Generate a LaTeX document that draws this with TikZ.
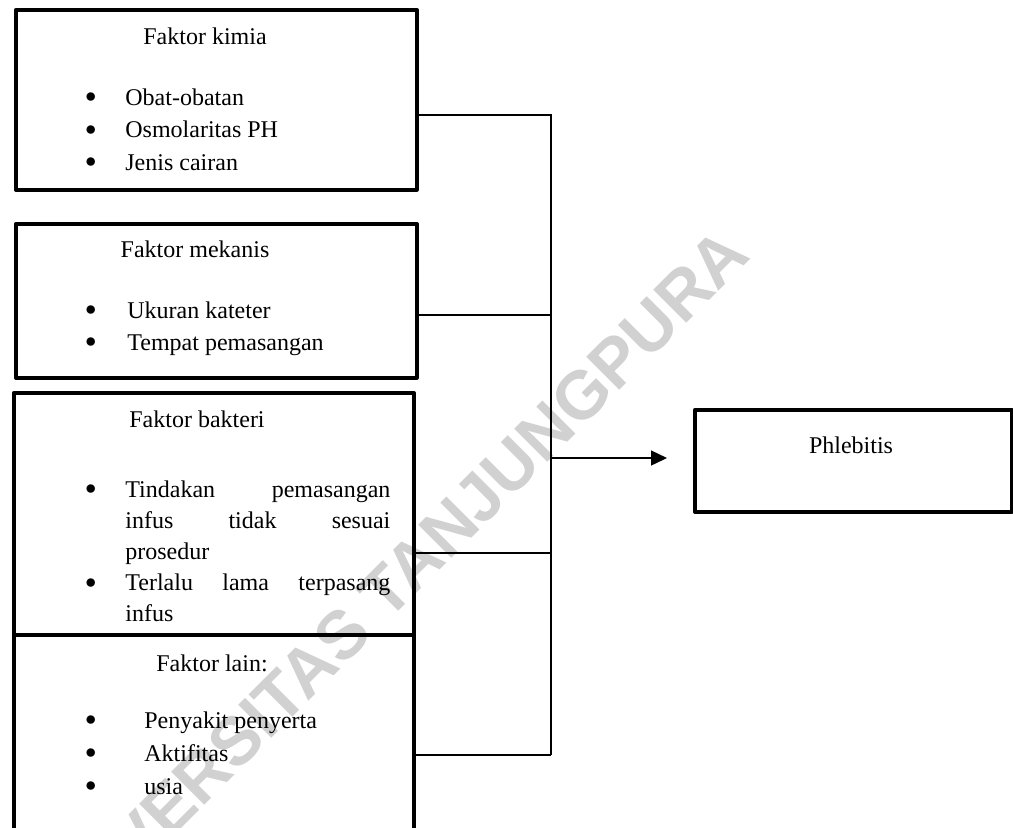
\documentclass[tikz,border=0pt]{standalone}
\usepackage{fontspec}
\setmainfont{Liberation Serif}
\newfontfamily\markfont{Liberation Sans}
\usetikzlibrary{arrows.meta}

\newcommand{\butir}{\raisebox{1.2pt}{\fontsize{11}{11}\selectfont$\bullet$}}

\begin{document}
\begin{tikzpicture}[x=0.5pt, y=-0.5pt,
        font=\fontsize{12}{16}\selectfont,
        faktor/.style={draw, rectangle, line width=1.8pt, line join=round, anchor=north west, inner sep=0pt},
        judul/.style={anchor=base, inner sep=0pt},
        daftar/.style={anchor=base west, inner sep=0pt, align=left},
        garis/.style={line width=0.7pt}]
        \useasboundingbox (0,0) rectangle (1013,827);
        \clip (0,0) rectangle (1013,827);

        % watermark
        \node[rotate=45, anchor=base east, inner sep=0pt, text=black!18, font=\markfont\bfseries\fontsize{34}{34}\selectfont] (cap) at (753,257) {UNIVERSITAS TANJUNGPURA};

        % kotak faktor
        \node[faktor, minimum width=200.5pt, minimum height=90pt] (kimia) at (14,8) {};
        \node[faktor, minimum width=200.5pt, minimum height=77pt] (mekanis) at (14,222) {};
        \node[faktor, minimum width=200pt, minimum height=121pt] (bakteri) at (12,391) {};
        \node[faktor, minimum width=200pt, minimum height=140pt] (lain) at (12,633) {};
        \node[faktor, minimum width=158.5pt, minimum height=51pt] (phlebitis) at (693,408) {};

        % isi kotak
        \node[judul] (kimia judul) at (205,44) {Faktor kimia};
        \node[daftar, font=\fontsize{12}{16.25}\selectfont] (kimia isi) at (85,105) {\begin{tabular}[t]{@{}p{20pt}@{}l@{}}
            \butir & Obat-obatan\\
            \butir & Osmolaritas PH\\
            \butir & Jenis cairan
        \end{tabular}};

        \node[judul] (mekanis judul) at (195,257) {Faktor mekanis};
        \node[daftar] (mekanis isi) at (85,318) {\begin{tabular}[t]{@{}p{21pt}@{}l@{}}
            \butir & Ukuran kateter\\
            \butir & Tempat pemasangan
        \end{tabular}};

        \node[judul] (bakteri judul) at (197,427) {Faktor bakteri};
        \node[daftar, font=\fontsize{12}{15.6}\selectfont] (bakteri isi) at (85,497) {\begin{tabular}[t]{@{}p{20pt}@{}p{132.5pt}@{}}
            \butir & Tindakan\hfill pemasangan\newline infus\hfill tidak\hfill sesuai\newline prosedur\\
            \butir & Terlalu\hfill lama\hfill terpasang\newline infus
        \end{tabular}};

        \node[judul] (lain judul) at (212,671) {Faktor lain:};
        \node[daftar, font=\fontsize{12}{16.5}\selectfont] (lain isi) at (85,728) {\begin{tabular}[t]{@{}p{29.5pt}@{}l@{}}
            \butir & Penyakit penyerta\\
            \butir & Aktifitas\\
            \butir & usia
        \end{tabular}};

        \node[judul] (phlebitis judul) at (851,453) {Phlebitis};

        % penghubung
        \coordinate (bus1) at (551,115);
        \coordinate (bus2) at (551,315);
        \coordinate (bus3) at (551,553);
        \coordinate (bus4) at (551,755);
        \coordinate (busout) at (551,458);

        \draw[garis] (kimia.east |- bus1) -- (bus1) -- (bus4);
        \draw[garis] (mekanis.east |- bus2) -- (bus2);
        \draw[garis] (bakteri.east |- bus3) -- (bus3);
        \draw[garis] (lain.east |- bus4) -- (bus4);
        \draw[garis, -{Triangle[length=8pt, width=7.5pt]}] (busout) -- ([xshift=-13pt]phlebitis.west |- busout);

    \end{tikzpicture}
\end{document}
